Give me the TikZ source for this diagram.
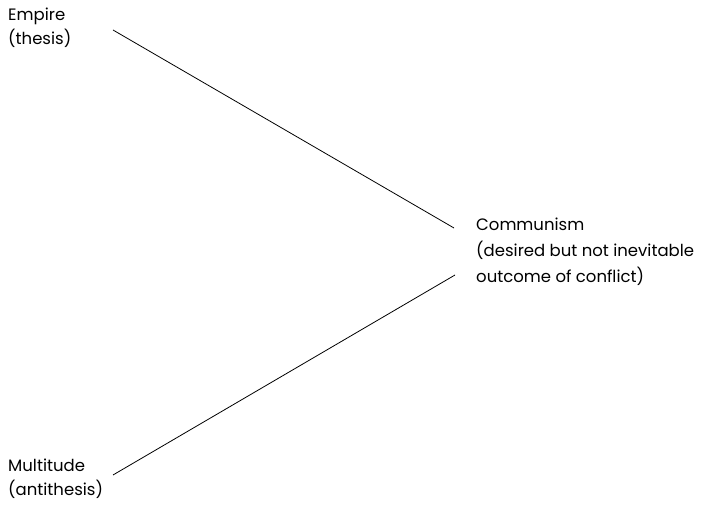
\documentclass[tikz,border=0pt]{standalone}
\usepackage{fontspec}
\setmainfont{Poppins}
\begin{document}
\begin{tikzpicture}[x=1pt,y=-1pt,
  lbl/.style={anchor=base west,inner sep=0pt,font=\fontsize{16.5}{24}\selectfont},
  link/.style={draw=black,line width=0.8pt}]
\useasboundingbox (0,0) rectangle (702,505);
\node[lbl] (e1) at (8,21) {Empire};
\node[lbl] (e2) at (8,45) {(thesis)};
\node[lbl] (c1) at (476,231) {Communism};
\node[lbl] (c2) at (476,257) {(desired but not inevitable};
\node[lbl] (c3) at (476,283) {outcome of conflict)};
\node[lbl] (m1) at (8,471) {Multitude};
\node[lbl] (m2) at (8,495) {(antithesis)};
\coordinate (ea) at (113,30);
\coordinate (ca) at (454,228);
\coordinate (cb) at (455,275);
\coordinate (ma) at (113,475);
\draw[link] (ea) -- (ca);
\draw[link] (ma) -- (cb);
\end{tikzpicture}
\end{document}
